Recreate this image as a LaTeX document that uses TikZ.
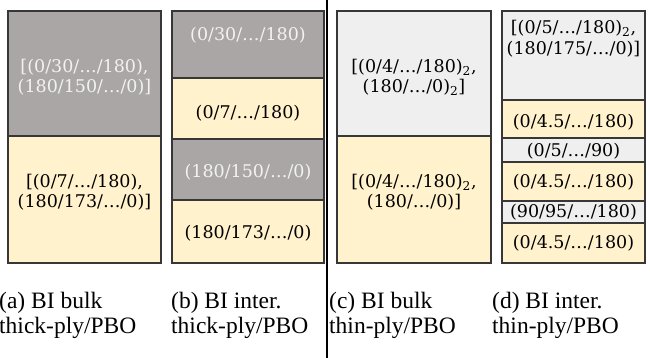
\documentclass[tikz,border=0pt]{standalone}
\usepackage{fontspec}
\usepackage{xcolor}
\usepackage{tikz}
\setmainfont{Liberation Serif}
\newfontfamily\plyfont{DejaVu Serif}
\definecolor{plydark}{RGB}{171,166,166}
\definecolor{plylight}{RGB}{239,239,239}
\definecolor{plybeige}{RGB}{255,242,204}
\definecolor{plyedge}{RGB}{55,55,55}
\definecolor{plytext}{RGB}{242,242,242}

\begin{document}
\begin{tikzpicture}[x=1pt, y=-1pt,
    darkply/.style={draw=plyedge, fill=plydark, line width=1.2pt},
    lightply/.style={draw=plyedge, fill=plylight, line width=1.2pt},
    beigeply/.style={draw=plyedge, fill=plybeige, line width=1.2pt},
    lbl/.style={font=\plyfont\fontsize{17.5}{20.5}\selectfont, align=center, inner sep=0pt},
    wlbl/.style={lbl, text=plytext},
    captxt/.style={font=\fontsize{23.5}{25}\selectfont, align=left, anchor=north west, inner sep=0pt}]
    \useasboundingbox (0,0) rectangle (650,358);

    % (a) bulk, thick-ply
    \draw[darkply] (8,11) rectangle (161,136);
    \draw[beigeply] (8,136) rectangle (161,263);
    \node[wlbl] (a1) at (84.5,77) {[(0/30/\dots/180),\\(180/150/\dots/0)]};
    \node[lbl] (a2) at (84.5,192) {[(0/7/\dots/180),\\(180/173/\dots/0)]};

    % (b) inter, thick-ply
    \draw[darkply] (172,11) rectangle (324,78);
    \draw[beigeply] (172,78) rectangle (324,139);
    \draw[darkply] (172,139) rectangle (324,200);
    \draw[beigeply] (172,200) rectangle (324,263);
    \node[wlbl] (b1) at (248,35) {(0/30/\dots/180)};
    \node[lbl] (b2) at (248,113) {(0/7/\dots/180)};
    \node[wlbl] (b3) at (248,172) {(180/150/\dots/0)};
    \node[lbl] (b4) at (248,233) {(180/173/\dots/0)};

    % separator
    \draw[line width=1.5pt] (327,0) -- (327,358);

    % (c) bulk, thin-ply
    \draw[lightply] (337,11) rectangle (491,136);
    \draw[beigeply] (337,136) rectangle (491,263);
    \node[lbl] (c1) at (414,77.5) {[(0/4/\dots/180)\textsubscript{2},\\(180/\dots/0)\textsubscript{2}]};
    \node[lbl] (c2) at (414,192) {[(0/4/\dots/180)\textsubscript{2},\\(180/\dots/0)]};

    % (d) inter, thin-ply
    \draw[lightply] (502,11) rectangle (645,100);
    \draw[beigeply] (502,100) rectangle (645,138);
    \draw[lightply] (502,138) rectangle (645,162);
    \draw[beigeply] (502,162) rectangle (645,201);
    \draw[lightply] (502,201) rectangle (645,223);
    \draw[beigeply] (502,223) rectangle (645,263);
    \node[lbl] (d1) at (573.5,38.5) {[(0/5/\dots/180)\textsubscript{2},\\(180/175/\dots/0)]};
    \node[lbl] (d2) at (573.5,122) {(0/4.5/\dots/180)};
    \node[lbl] (d3) at (573.5,151) {(0/5/\dots/90)};
    \node[lbl] (d4) at (573.5,182) {(0/4.5/\dots/180)};
    \node[lbl] (d5) at (573.5,212) {(90/95/\dots/180)};
    \node[lbl] (d6) at (573.5,243) {(0/4.5/\dots/180)};

    % captions
    \node[captxt] (capa) at (-1,292) {(a) BI bulk\\thick-ply/PBO};
    \node[captxt] (capb) at (171,292) {(b) BI inter.\\thick-ply/PBO};
    \node[captxt] (capc) at (329,292) {(c) BI bulk\\thin-ply/PBO};
    \node[captxt] (capd) at (492,292) {(d) BI inter.\\thin-ply/PBO};
\end{tikzpicture}
\end{document}
